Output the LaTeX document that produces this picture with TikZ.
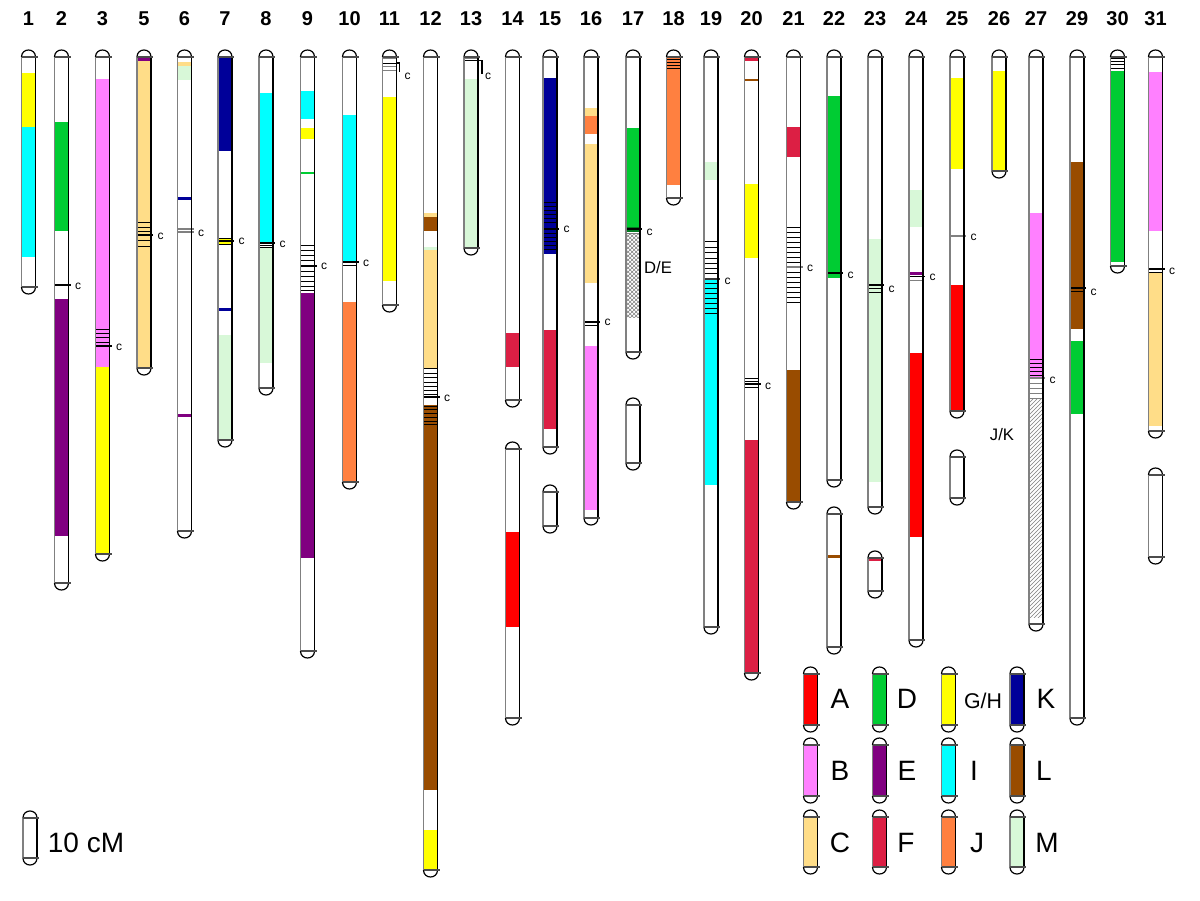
\documentclass[tikz,border=0pt]{standalone}
\usepackage{fontspec}
\setmainfont{Liberation Sans}
\usetikzlibrary{patterns}
\definecolor{cA}{HTML}{FF0000}
\definecolor{cB}{HTML}{FF80FF}
\definecolor{cC}{HTML}{FFDD88}
\definecolor{cD}{HTML}{00CC33}
\definecolor{cE}{HTML}{800080}
\definecolor{cF}{HTML}{DC1F44}
\definecolor{cG}{HTML}{FFFF00}
\definecolor{cI}{HTML}{00FFFF}
\definecolor{cJ}{HTML}{FF8040}
\definecolor{cK}{HTML}{000099}
\definecolor{cL}{HTML}{994C00}
\definecolor{cM}{HTML}{D8F8D8}
\newcommand\chrbg[2]{\fill[white] (\cx-7,#1) .. controls (\cx-7,#1-9.33) and (\cx+7,#1-9.33) .. (\cx+7,#1) -- (\cx+7,#2) .. controls (\cx+7,#2+9.33) and (\cx-7,#2+9.33) .. (\cx-7,#2) -- cycle;}
\newcommand\chrout[2]{%
 \draw[capline] (\cx-7,#1) .. controls (\cx-7,#1-9.33) and (\cx+7,#1-9.33) .. (\cx+7,#1);
 \draw[capline] (\cx-7,#2) .. controls (\cx-7,#2+9.33) and (\cx+7,#2+9.33) .. (\cx+7,#2);
 \draw[lside] (\cx-7,#1) -- (\cx-7,#2);
 \draw[rside] (\cx+7,#1) -- (\cx+7,#2);
 \draw[endline] (\cx-7,#1) -- (\cx+9,#1);
 \draw[endline] (\cx-7,#2) -- (\cx+9,#2);}
\newcommand\piece[3]{\chrbg{#1}{#2}#3\chrout{#1}{#2}}
\newcommand\chrom[2]{\def\cx{#1}\node[numlab] (n#2) at (#1,19) {#2};}
\newcommand\bnd[3]{\fill[#3] (\cx-7,#1) rectangle (\cx+7,#2);}
\newcommand\hlns[1]{\foreach \yy in {#1}{\draw[hatchl] (\cx-7,\yy) -- (\cx+7,\yy);}}
\newcommand\hlng[1]{\foreach \yy in {#1}{\draw[hatchg] (\cx-7,\yy) -- (\cx+7,\yy);}}
\newcommand\cmk[4][cline]{\draw[#1] (\cx-7,#2) -- (\cx+9,#2); \node[clab] (#4) at (\cx+16.5,#3) {c};}
\begin{document}
\begin{tikzpicture}[x=0.75pt,y=-0.75pt,
 capline/.style={draw=black,line width=0.9pt},
 lside/.style={draw=gray,line width=1.1pt},
 rside/.style={draw=black,line width=1.1pt},
 endline/.style={draw=black!70,line width=0.9pt},
 hatchl/.style={draw=black,line width=0.45pt},
 hatchg/.style={draw=gray,line width=0.6pt},
 cline/.style={draw=black,line width=0.8pt},
 cgray/.style={draw=gray,line width=1.6pt},
 cgray2/.style={draw=gray,line width=0.9pt},
 cthick/.style={draw=black!80,line width=1.4pt},
 numlab/.style={font=\fontsize{15}{18}\selectfont\bfseries,inner sep=0pt},
 clab/.style={font=\fontsize{9}{11}\selectfont,inner sep=0pt},
 leglab/.style={font=\fontsize{21}{25}\selectfont,inner sep=0pt},
 ghlab/.style={font=\fontsize{16}{19}\selectfont,inner sep=0pt},
 midlab/.style={font=\fontsize{12.5}{15}\selectfont,inner sep=0pt}]
\useasboundingbox (0,0) rectangle (1200,900);
\fill[white] (0,0) rectangle (1200,900);
% 1
\chrom{28.5}{1}
\piece{57}{287}{\bnd{73}{127}{cG}\bnd{127}{257}{cI}}
% 2
\chrom{61.5}{2}
\piece{57}{583}{\bnd{122}{231}{cD}\bnd{299}{536}{cE}\cmk{285}{286}{c2}}
% 3
\chrom{102.5}{3}
\piece{57}{554}{\bnd{79}{367}{cB}\hlns{329,333,337,342}\cmk{346}{347}{c3}\bnd{367}{554}{cG}}
% 5
\chrom{144}{5}
\piece{57}{368}{\bnd{57}{61}{cE}\bnd{61}{368}{cC}\hlns{222,227,231,240,246}\cmk{235}{236}{c5}}
% 6
\chrom{184.5}{6}
\piece{57}{531}{\bnd{62}{66}{cC}\bnd{66}{80}{cM}\bnd{197}{199.5}{cK}\cmk[cgray2]{229}{233}{c6}\draw[cgray2] (\cx-7,232)--(\cx+9,232); \bnd{414}{416.5}{cE}}
% 7
\chrom{225}{7}
\piece{57}{440}{\bnd{57}{151}{cK}\bnd{237.5}{244}{cG}\hlns{238,244}\cmk{241}{241}{c7}\bnd{308}{310.5}{cK}\bnd{335}{440}{cM}}
% 8
\chrom{266}{8}
\piece{57}{388}{\bnd{93}{242}{cI}\bnd{247}{363}{cM}\hlns{245.5,247.5}\cmk{243}{244}{c8}}
% 9
\chrom{307.5}{9}
\piece{57}{651}{\bnd{91}{119}{cI}\bnd{128}{139}{cG}\bnd{171.5}{174}{cD}\hlns{245,250,255,260,271,276,281,286,290}\cmk{266}{266}{c9}\bnd{293}{558}{cE}}
% 10
\chrom{349.5}{10}
\piece{57}{482}{\bnd{115}{262}{cI}\hlns{265}\cmk{262}{263}{c10}\bnd{302}{482}{cJ}}
% 11
\chrom{389.5}{11}
\piece{57}{305}{\bnd{57}{59}{gray}\hlns{63}\hlng{66,70}\bnd{97}{281}{cG}\draw[cline] (\cx+7,63)--(\cx+10,63)--(\cx+10,72); \node[clab] (c11) at (\cx+18,76) {c};}
% 12
\chrom{430.5}{12}
\piece{57}{870}{\bnd{213}{217}{cC}\bnd{217}{231}{cL}\bnd{247}{250}{cM}\bnd{250}{368}{cC}\hlns{368,373,377,382,386,390,394}\cmk{397}{398}{c12}\bnd{405}{790}{cL}\hlns{406,409,413,417,421,424}\bnd{830}{870}{cG}}
% 13
\chrom{471}{13}
\piece{57}{248}{\bnd{57}{59}{gray}\hlns{60.5}\bnd{79}{248}{cM}\draw[cline] (\cx+7,60.5)--(\cx+11,60.5)--(\cx+11,74); \node[clab] (c13) at (\cx+17,76) {c};}
% 14
\chrom{512.5}{14}
\piece{57}{400}{\bnd{333}{367}{cF}}
\piece{449}{718}{\bnd{532}{627}{cA}}
% 15
\chrom{550}{15}
\piece{57}{447}{\bnd{78}{254}{cK}\hlns{202,206,210,214,218,222,233,237,241,245,249}\cmk{229}{229}{c15}\bnd{330}{429}{cF}}
\piece{492}{526}{}
% 16
\chrom{591}{16}
\piece{57}{518}{\bnd{108}{116}{cC}\bnd{116}{134}{cJ}\bnd{144}{283}{cC}\hlns{325}\cmk{322}{322}{c16}\bnd{346}{510}{cB}}
% 17
\chrom{633}{17}
\piece{57}{352}{\bnd{128}{227}{cD}\bnd{227}{232}{cD!60!black}\fill[pattern=crosshatch,pattern color=gray] (\cx-7,234) rectangle (\cx+7,317); \hlng{233.5}\cmk{229}{232}{c17}}
\piece{405}{463}{}
\node[midlab] (de) at (658,268) {D/E};
% 18
\chrom{673.5}{18}
\piece{57}{198}{\bnd{57}{185}{cJ}\hlns{59,62,65,68}}
% 19
\chrom{711}{19}
\piece{57}{627}{\bnd{162}{180}{cM}\bnd{279}{485}{cI}\hlns{241,247,252,258,263,268,273,283,288,293,298,303,308,313}\cmk[cthick]{279}{281}{c19}}
% 20
\chrom{751.5}{20}
\piece{57}{673}{\bnd{57}{61}{cF}\bnd{79}{81}{cL}\bnd{184}{258}{cG}\hlns{378,381,387}\cmk{384}{386}{c20}\bnd{440}{673}{cF}}
% 21
\chrom{793.5}{21}
\piece{57}{502}{\bnd{127}{157}{cF}\hlns{227,232,237,242,247,252,257,262,272,277,282,287,292,297,302}\cmk[cgray]{267}{268}{c21}\bnd{370}{502}{cL}}
% 22
\chrom{834}{22}
\piece{57}{480}{\bnd{96}{278}{cD}\cmk{273}{275}{c22}}
\piece{514}{647}{\bnd{555}{557.5}{cL}}
% 23
\chrom{875}{23}
\piece{57}{507}{\bnd{239}{482}{cM}\hlns{288.5,292}\cmk{285}{289}{c23}}
\piece{558}{591}{\bnd{558}{561}{cF}}
% 24
\chrom{916}{24}
\piece{57}{640}{\bnd{190}{227}{cM}\bnd{272}{275}{cE}\hlng{280}\cmk{276.5}{277}{c24}\bnd{353}{537}{cA}}
% 25
\chrom{957}{25}
\piece{57}{411}{\bnd{78}{169}{cG}\cmk[cgray]{236}{237}{c25}\bnd{285}{411}{cA}}
\piece{457}{498}{}
% 26
\chrom{999}{26}
\piece{57}{171}{\bnd{71}{171}{cG}}
\node[midlab] (jk) at (1002,435) {J/K};
% 27
\chrom{1036}{27}
\piece{57}{624}{\bnd{213}{378}{cB}\hlns{359,363,367,371,375}\hlng{383,388,393,398}\cmk[cgray]{378}{380}{c27}\fill[pattern=north east lines,pattern color=gray] (\cx-7,399) rectangle (\cx+7,617);}
% 29
\chrom{1077}{29}
\piece{57}{718}{\bnd{162}{329}{cL}\hlns{291}\cmk{288}{292}{c29}\bnd{341}{414}{cD}}
% 30
\chrom{1117.5}{30}
\piece{57}{266}{\hlns{58,61,64,68}\bnd{71}{262}{cD}}
% 31
\chrom{1155.5}{31}
\piece{57}{431}{\bnd{72}{231}{cB}\bnd{272}{426}{cC}\hlns{272}\cmk{269}{271}{c31}}
\piece{475}{557}{}
% legend
\def\cx{810.5}\piece{674}{725}{\bnd{674}{725}{cA}}\node[leglab] (lA) at (840,699) {A};
\def\cx{879.5}\piece{674}{725}{\bnd{674}{725}{cD}}\node[leglab] (lD) at (907,699) {D};
\def\cx{948.5}\piece{674}{725}{\bnd{674}{725}{cG}}\node[ghlab] (lG) at (983,701) {G/H};
\def\cx{1017}\piece{674}{725}{\bnd{674}{725}{cK}}\node[leglab] (lK) at (1046,699) {K};
\def\cx{810.5}\piece{745}{796}{\bnd{745}{796}{cB}}\node[leglab] (lB) at (840,771) {B};
\def\cx{879.5}\piece{745}{796}{\bnd{745}{796}{cE}}\node[leglab] (lE) at (907,771) {E};
\def\cx{948.5}\piece{745}{796}{\bnd{745}{796}{cI}}\node[leglab] (lI) at (974,771) {I};
\def\cx{1017}\piece{745}{796}{\bnd{745}{796}{cL}}\node[leglab] (lL) at (1044,771) {L};
\def\cx{810.5}\piece{817}{867}{\bnd{817}{867}{cC}}\node[leglab] (lC) at (840,843) {C};
\def\cx{879.5}\piece{817}{867}{\bnd{817}{867}{cF}}\node[leglab] (lF) at (906,843) {F};
\def\cx{948.5}\piece{817}{867}{\bnd{817}{867}{cJ}}\node[leglab] (lJ) at (977,843) {J};
\def\cx{1017}\piece{817}{867}{\bnd{817}{867}{cM}}\node[leglab] (lM) at (1047,843) {M};
% scale
\def\cx{30}\piece{818}{858}{}
\node[leglab] (scale) at (86,843) {10 cM};
\end{tikzpicture}
\end{document}
